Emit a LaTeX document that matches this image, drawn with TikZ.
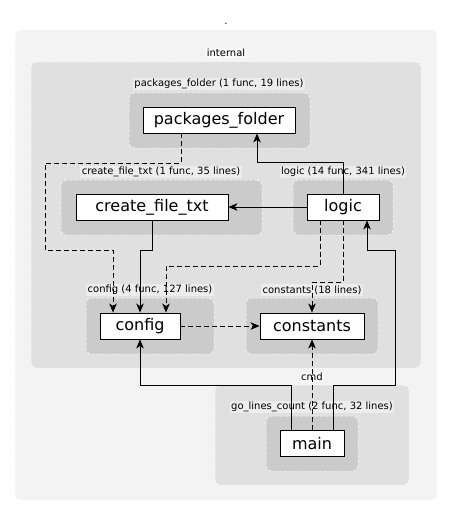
\documentclass[tikz,border=0pt]{standalone}
\usepackage{fontspec}
\setmainfont{DejaVu Sans}
\usetikzlibrary{arrows.meta}

\definecolor{outerfill}{HTML}{F3F3F3}
\definecolor{innerfill}{HTML}{E0E0E0}
\definecolor{pkgfill}{HTML}{CBCBCB}

\begin{document}
\begin{tikzpicture}[x=1pt, y=-1pt, >={Stealth[length=9pt, width=7.5pt, inset=2.5pt]},
		cluster/.style={draw=white, dash pattern=on 3pt off 2pt, line width=0.5pt, rounded corners=5pt, inner sep=0pt},
		pkg/.style={draw, fill=white, line width=0.9pt, minimum height=26pt, inner sep=0pt, font=\fontsize{16}{19}\selectfont},
		lbl/.style={fill=white, fill opacity=0.45, text opacity=1, inner sep=1.5pt, font=\fontsize{10}{12}\selectfont},
		dep/.style={->, line width=0.9pt},
		weakdep/.style={dep, dash pattern=on 5pt off 3pt}]

		\useasboundingbox (0,0) rectangle (453,516);

		% clusters
		\node (dotBox) at (226,265) [cluster, fill=outerfill, minimum width=422pt, minimum height=470pt] {};
		\node (internalBox) at (226,215) [cluster, fill=innerfill, minimum width=390pt, minimum height=306pt] {};
		\node (pkgFolderBox) at (219.5,120.5) [cluster, fill=pkgfill, minimum width=181pt, minimum height=55pt] {};
		\node (createFileBox) at (161.5,207.5) [cluster, fill=pkgfill, minimum width=201pt, minimum height=55pt] {};
		\node (logicBox) at (343,207.5) [cluster, fill=pkgfill, minimum width=100pt, minimum height=55pt] {};
		\node (configBox) at (150,326) [cluster, fill=pkgfill, minimum width=128pt, minimum height=56pt] {};
		\node (constantsBox) at (312,326) [cluster, fill=pkgfill, minimum width=132pt, minimum height=56pt] {};
		\node (cmdBox) at (312,435) [cluster, fill=innerfill, minimum width=194pt, minimum height=100pt] {};
		\node (goLinesBox) at (312,443.5) [cluster, fill=pkgfill, minimum width=92pt, minimum height=55pt] {};

		% cluster labels
		\node (dotLbl) at (226,24) [lbl] {.};
		\node (internalLbl) at (226,53) [lbl] {internal};
		\node (pkgFolderLbl) at (219,84) [lbl] {packages\_folder (1 func, 19 lines)};
		\node (createFileLbl) at (161,172) [lbl] {create\_file\_txt (1 func, 35 lines)};
		\node (logicLbl) at (343,172) [lbl] {logic (14 func, 341 lines)};
		\node (configLbl) at (150,290) [lbl] {config (4 func, 127 lines)};
		\node (constantsLbl) at (312,290) [lbl] {constants (18 lines)};
		\node (cmdLbl) at (312,377) [lbl] {cmd};
		\node (goLinesLbl) at (312,407) [lbl] {go\_lines\_count (2 func, 32 lines)};

		% packages
		\node (PkgFolder) at (219,120) [pkg, minimum width=152pt] {packages\_folder};
		\node (CreateFile) at (152,207) [pkg, minimum width=152pt] {create\_file\_txt};
		\node (Logic) at (343,207) [pkg, minimum width=72pt] {logic};
		\node (Config) at (140,326) [pkg, minimum width=80pt] {config};
		\node (Constants) at (312,326) [pkg, minimum width=104pt] {constants};
		\node (Main) at (312,443.5) [pkg, minimum width=64pt] {main};

		% imports
		\draw[weakdep] ([xshift=-38pt]PkgFolder.south) -- ++(0,30) -- ++(-136,0) -- ++(0,87) -| ([xshift=-27pt]Config.north);
		\draw[dep] (Logic.north) -- ++(0,-31) -| ([xshift=38pt]PkgFolder.south);
		\draw[dep] (CreateFile.south) -- ++(0,30) -| (Config.north);
		\draw[weakdep] ([xshift=-23pt]Logic.south) -- ++(0,46) -| ([xshift=26pt]Config.north);
		\draw[weakdep] (Logic.south) -- ++(0,62) -| (Constants.north);
		\draw[dep] ([xshift=-21pt]Main.north) -- ++(0,-45) -| (Config.south);
		\draw[dep] ([xshift=21pt]Main.north) -- ++(0,-45) -- ++(62,0) -- ++(0,-135) -| ([xshift=24pt]Logic.south);

		\path[dep]
		(Logic) edge (CreateFile)
		(Main) edge [weakdep] (Constants)
		(Config) edge [weakdep] (Constants);
	\end{tikzpicture}
\end{document}
